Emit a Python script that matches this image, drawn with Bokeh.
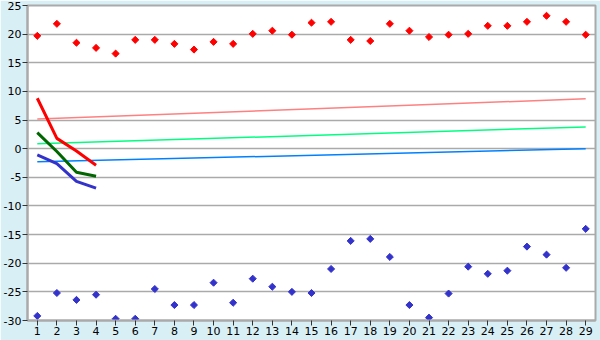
from bokeh.plotting import figure
from bokeh.models import FixedTicker, Range1d
from bokeh.embed import file_html
from bokeh.resources import INLINE

days = list(range(1, 30))
red_pts = [19.7, 21.8, 18.5, 17.6, 16.6, 19.0, 19.0, 18.3, 17.3, 18.65,
           18.3, 20.05, 20.6, 19.9, 22.0, 22.15, 19.0, 18.8, 21.8, 20.6,
           19.5, 19.9, 20.05, 21.45, 21.45, 22.15, 23.2, 22.15, 19.9]
blue_pts = [-29.2, -25.2, -26.4, -25.5, -29.7, -29.7, -24.5, -27.3, -27.3, -23.4,
            -26.9, -22.7, -24.1, -25.0, -25.2, -21.0, -16.1, -15.75, -18.9, -27.3,
            -29.5, -25.3, -20.6, -21.85, -21.3, -17.1, -18.5, -20.8, -14.0]

trend_x = [1, 29]
trend_red = [5.2, 8.7]
trend_green = [0.85, 3.8]
trend_blue = [-2.3, 0.0]

short_x = [1, 2, 3, 4]
short_red = [8.8, 1.8, -0.4, -2.9]
short_green = [2.8, -0.5, -4.1, -4.8]
short_blue = [-1.1, -2.6, -5.7, -6.9]

y_ticks = [-30, -25, -20, -15, -10, -5, 0, 5, 10, 15, 20, 25]
y_labels = {t: str(t) for t in y_ticks}

p = figure(width=600, height=340, output_backend="svg", toolbar_location=None,
           x_range=Range1d(0.5, 29.5), y_range=Range1d(-30, 25),
           min_border_left=26, min_border_right=5, min_border_top=5, min_border_bottom=20)

p.border_fill_color = "#D9EFF6"
p.background_fill_color = "white"
p.outline_line_color = "#AAAAAA"
p.outline_line_width = 2

p.xgrid.grid_line_color = None
p.ygrid.grid_line_color = "#AAAAAA"
p.ygrid.grid_line_width = 1.5
p.ygrid.ticker = FixedTicker(ticks=y_ticks)

for ax in (p.xaxis, p.yaxis):
    ax.axis_line_color = "#AAAAAA"
    ax.axis_line_width = 2
    ax.major_tick_line_color = "#333333"
    ax.major_tick_in = 0
    ax.major_tick_out = 5
    ax.minor_tick_line_color = None
    ax.major_label_text_font = "DejaVu Sans"
    ax.major_label_text_font_size = "11px"
    ax.major_label_text_color = "black"
    ax.major_label_standoff = 1

p.xaxis.ticker = FixedTicker(ticks=days)
p.yaxis.ticker = FixedTicker(ticks=y_ticks)
p.yaxis.major_label_overrides = y_labels

p.line(trend_x, trend_red, color="#FF8080", line_width=1.5)
p.line(trend_x, trend_green, color="#00FF80", line_width=1.5)
p.line(trend_x, trend_blue, color="#0080FF", line_width=1.5)

p.line(short_x, short_red, color="#FF0000", line_width=3)
p.line(short_x, short_green, color="#006600", line_width=3)
p.line(short_x, short_blue, color="#3333CC", line_width=3)

p.scatter(days, red_pts, marker="square", angle=0.785398, size=5, color="#FF0000")
p.scatter(days, blue_pts, marker="square", angle=0.785398, size=5, color="#3333CC")

open("out.html", "w").write(file_html(p, INLINE))
